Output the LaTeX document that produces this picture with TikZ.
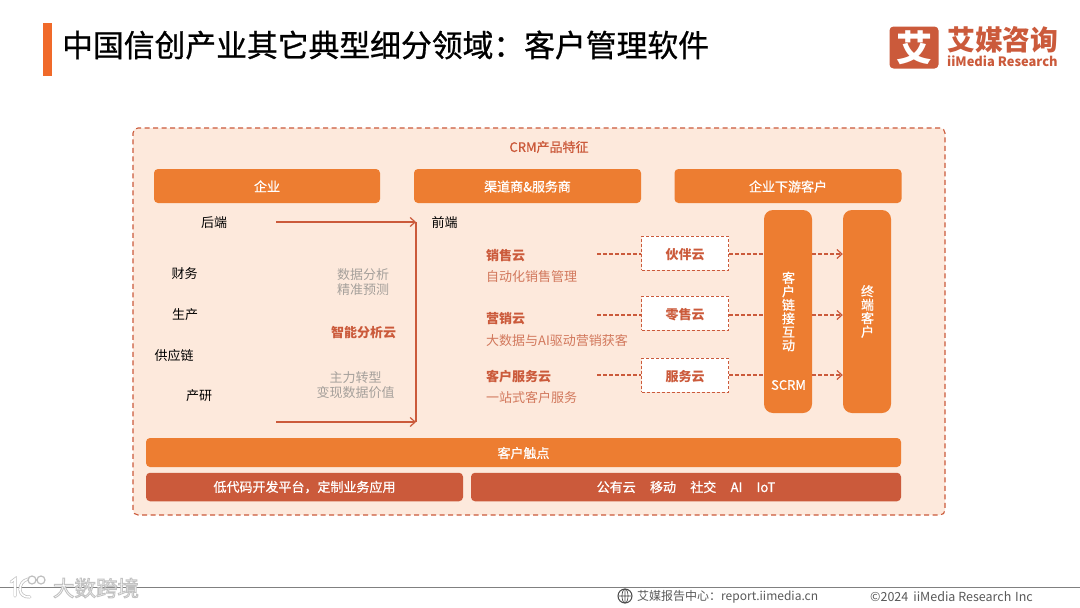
\documentclass[tikz,border=0pt]{standalone}
\usepackage{fontspec}
\setmainfont{Noto Sans CJK SC}
\newfontfamily\medfont[FakeBold=0.8]{Noto Sans CJK SC}
\newcommand{\ziColon}{\char"FF1A }
\newcommand{\ziComma}{\char"FF0C }
\newcommand{\ghostOn}{\special{pdf:code 2 Tr 0.9 w 0.76 G 1 g}}
\newcommand{\ghostOff}{\special{pdf:code 0 Tr 0 G 0 g}}
\usepackage{tikz}
\usetikzlibrary{arrows.meta,positioning,calc}
\definecolor{IiOrange}{HTML}{ED7D31}
\definecolor{IiRed}{HTML}{CB5A3B}
\definecolor{IiPeach}{HTML}{FDE9DC}
\definecolor{IiGrey}{HTML}{A5A09B}
\definecolor{IiSub}{HTML}{D2785C}
\tikzset{
  headbox/.style={draw=none,fill=IiOrange,rounded corners=4pt,text=white,font=\fontsize{13}{15}\medfont,inner sep=0pt},
  redbox/.style={headbox,fill=IiRed},
  colbox/.style={headbox,rounded corners=9pt,minimum width=48pt,minimum height=203pt},
  cloudbox/.style={draw=IiRed,densely dashed,line width=.5pt,fill=white,text=IiRed,font=\fontsize{13}{15}\selectfont\bfseries,minimum width=87pt,minimum height=33.5pt,inner sep=0pt,text height=13pt,text depth=0pt},
  plain/.style={font=\fontsize{13}{15}\selectfont,text=black,inner sep=0pt},
  greytext/.style={font=\fontsize{13}{15.5}\selectfont,text=IiGrey,align=center,inner sep=0pt},
  cloudname/.style={font=\fontsize{13}{15}\selectfont\bfseries,text=IiRed,inner sep=0pt},
  cloudsub/.style={font=\fontsize{13}{15}\selectfont,text=IiSub,inner sep=0pt},
  flow/.style={draw=IiRed,line width=1.2pt},
  dashflow/.style={draw=IiRed,line width=1.2pt,dashed,dash pattern=on 4pt off 2pt},
  tip/.style={-{Straight Barb[length=5pt,width=9pt,line width=1.2pt]}}
}
\begin{document}
\begin{tikzpicture}[x=1pt,y=-1pt]
  \useasboundingbox (0,0) rectangle (1080,608);
  \fill[white] (0,0) rectangle (1080,608);
  % header
  \fill[IiOrange!85!red] (43,23) rectangle (52,76);
  \node[anchor=west,inner sep=0pt,font=\fontsize{30.8}{34}\medfont] (title) at (62,45) {中国信创产业其它典型细分领域\ziColon 客户管理软件};
  \node[fill=IiRed,rounded corners=4pt,minimum width=49pt,minimum height=42pt,inner sep=0pt,text=white,font=\fontsize{36}{38}\selectfont\bfseries] (logo) at (914,47.5) {艾};
  \node[anchor=west,inner sep=0pt,text=IiRed,font=\fontsize{27.8}{29}\selectfont\bfseries] (logocn) at (947,40) {艾媒咨询};
  \node[anchor=west,inner sep=0pt,text=IiRed,font=\fontsize{12.9}{14}\selectfont\bfseries] (logoen) at (947,61.5) {iiMedia Research};
  % panel
  \node[draw=IiRed,dashed,line width=1.1pt,dash pattern=on 5pt off 3.5pt,fill=IiPeach,rounded corners=5pt,minimum width=812pt,minimum height=387pt,inner sep=0pt] (panel) at (539,321.5) {};
  \node[inner sep=0pt,text=IiRed,font=\fontsize{13}{15}\medfont] (paneltitle) at (549,147) {CRM产品特征};
  \node[headbox,minimum width=226pt,minimum height=34pt,text height=11pt,text depth=0pt] (ent) at (267,186) {企业};
  \node[headbox,minimum width=227pt,minimum height=34pt,text height=11pt,text depth=0pt] (chan) at (527.5,186) {渠道商\&服务商};
  \node[headbox,minimum width=227pt,minimum height=34pt,text height=11pt,text depth=0pt] (down) at (788,186) {企业下游客户};
  % left column
  \node[plain] (back) at (214,222.5) {后端};
  \node[plain] (fin) at (184.5,274) {财务};
  \node[plain] (prod) at (185,314.5) {生产};
  \node[plain] (supply) at (174,356) {供应链};
  \node[plain] (rnd) at (199,396) {产研};
  \node[greytext] (ana) at (363,282) {数据分析\\精准预测};
  \node[cloudname] (smart) at (363.5,332.5) {智能分析云};
  \node[greytext] (trans) at (355.5,385) {主力转型\\变现数据价值};
  \node[plain] (front) at (444.5,222.5) {前端};
  % clouds
  \node[cloudname,anchor=west] (sale) at (486,256) {销售云};
  \node[cloudsub,anchor=west] (salesub) at (486,277) {自动化销售管理};
  \node[cloudname,anchor=west] (mkt) at (486,318.5) {营销云};
  \node[cloudsub,anchor=west] (mktsub) at (486,340.5) {大数据与AI驱动营销获客};
  \node[cloudname,anchor=west] (svc) at (486,377) {客户服务云};
  \node[cloudsub,anchor=west] (svcsub) at (486,397.5) {一站式客户服务};
  \node[cloudbox] (partner) at (685,253) {伙伴云};
  \node[cloudbox] (retail) at (685,313) {零售云};
  \node[cloudbox] (service) at (685,375) {服务云};
  % arrows
  \coordinate (backend) at (276,222);
  \coordinate (rndend) at (276,422);
  \coordinate (topcorner) at (416,222);
  \coordinate (botcorner) at (416,422);
  \coordinate (sale1) at (597,254);
  \coordinate (mkt1) at (597,315);
  \coordinate (svc1) at (597,375);
  \draw[flow] (topcorner) -- (botcorner);
  \draw[flow,tip] (backend) -- (topcorner);
  \draw[flow,tip] (rndend) -- (botcorner);
  \draw[dashflow] (sale1) -- (partner.west |- sale1);
  \draw[dashflow] (mkt1) -- (retail.west |- mkt1);
  \draw[dashflow] (svc1) -- (service.west |- svc1);
  \node[colbox] (scrm) at (788,311.5) {};
  \node[colbox] (term) at (867,311.5) {};
  \node[inner sep=0pt,text=white,align=center,font=\fontsize{13}{13.5}\medfont] (link) at (788.5,311.5) {客\\户\\链\\接\\互\\动};
  \node[inner sep=0pt,text=white,font=\fontsize{13}{15}\medfont] (scrmtxt) at (788.5,385) {SCRM};
  \node[inner sep=0pt,text=white,align=center,font=\fontsize{13}{13.5}\medfont] (termtxt) at (867.5,311.5) {终\\端\\客\\户};
  \draw[dashflow] (partner.east |- sale1) -- (scrm.west |- sale1);
  \draw[dashflow] (retail.east |- mkt1) -- (scrm.west |- mkt1);
  \draw[dashflow] (service.east |- svc1) -- (scrm.west |- svc1);
  \draw[dashflow,tip] (scrm.east |- sale1) -- (term.west |- sale1);
  \draw[dashflow,tip] (scrm.east |- mkt1) -- (term.west |- mkt1);
  \draw[dashflow,tip] (scrm.east |- svc1) -- (term.west |- svc1);
  % bottom bars
  \node[headbox,minimum width=755pt,minimum height=29pt,text height=11pt,text depth=0pt] (touch) at (523.5,452.5) {客户触点};
  \node[redbox,minimum width=317pt,minimum height=28.5pt] (lowcode) at (304.5,487) {低代码开发平台\ziComma 定制业务应用};
  \node[redbox,minimum width=430pt,minimum height=28.5pt] (tech) at (686,487) {公有云\hspace{1.1em}移动\hspace{1.1em}社交\hspace{1.1em}AI\hspace{1.1em}IoT};
  % footer
  \draw[gray,line width=1.3pt] (0,587.5) -- (1080,587.5);
  \node[inner sep=0pt,font=\fontsize{21.5}{23}\selectfont] (mark) at (96,588) {\ghostOn 大数跨境\ghostOff};
  \draw[black!25,line width=3pt,line cap=round] (11,582) -- (15,579) -- (15,596) (28,579) .. controls (17,582) and (17,598) .. (30,597);
  \draw[white,line width=1.6pt,line cap=round] (11,582) -- (15,579) -- (15,596) (28,579) .. controls (17,582) and (17,598) .. (30,597);
  \draw[black!25,line width=1.2pt] (32,580) circle (4pt) (41,580) circle (4pt);
  \draw[black!70,line width=1pt] (625,596) circle (7pt);
  \draw[black!70,line width=.7pt] (618,596) -- (632,596) (625,589) -- (625,603) (625,596) ellipse (3pt and 7pt);
  \node[anchor=west,inner sep=0pt,text=black!65,font=\fontsize{12}{13}\selectfont] (report) at (637,597) {艾媒报告中心\ziColon report.iimedia.cn};
  \node[anchor=west,inner sep=0pt,text=black!65,font=\fontsize{12.5}{13}\selectfont] (copy) at (870,597) {©2024\hspace{.4em}iiMedia Research\hspace{.3em}Inc};
\end{tikzpicture}
\end{document}
